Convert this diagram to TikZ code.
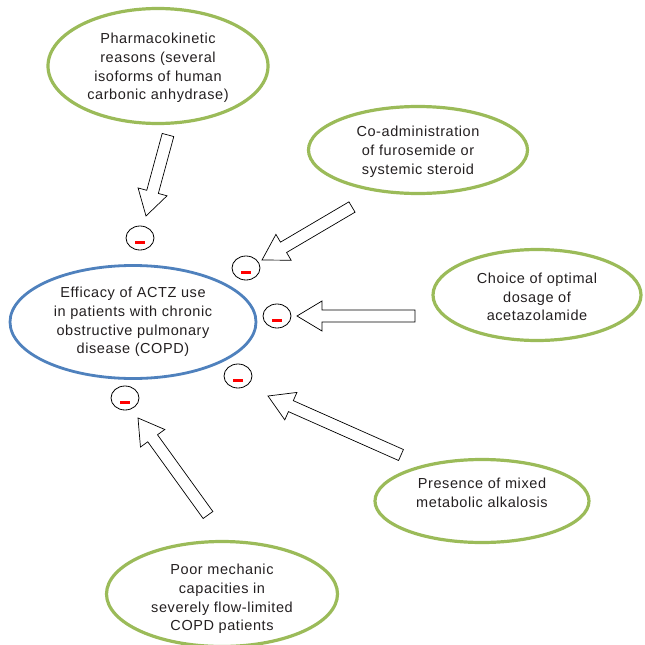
\documentclass[tikz,border=0pt]{standalone}
\usepackage{fontspec}
\setmainfont{Liberation Sans}[LetterSpace=4]
\usetikzlibrary{shapes.geometric,calc}
\definecolor{ogreen}{HTML}{9BBB59}
\definecolor{oblue}{HTML}{4F81BD}
\definecolor{txt}{HTML}{231F20}
\tikzset{
  bubble/.style={ellipse, draw=ogreen, line width=3.2pt, inner sep=0pt},
  mainbubble/.style={bubble, draw=oblue, line width=2.8pt},
  btext/.style={align=center, text=txt, inner sep=0pt, font=\fontsize{14.5}{18.8}\selectfont},
  minuscirc/.style={ellipse, draw=black, line width=0.8pt, minimum width=28pt, minimum height=24pt, inner sep=0pt},
  minusbar/.style={fill=red, draw=none, minimum width=10pt, minimum height=3pt, inner sep=0pt},
  blockarrow/.style={draw=black, line width=0.7pt, fill=white, line join=miter}
}
\newcommand{\blockarr}[2]{%
  \coordinate (hb) at ($(#2)!25pt!(#1)$);
  \draw[blockarrow] ($(#1)!6pt!90:(#2)$) -- ($(hb)!6pt!90:(#2)$) -- ($(hb)!15pt!90:(#2)$) -- (#2)
    -- ($(hb)!15pt!-90:(#2)$) -- ($(hb)!6pt!-90:(#2)$) -- ($(#1)!6pt!-90:(#2)$) -- cycle;}
\begin{document}
\begin{tikzpicture}[x=1pt,y=-1pt]
\useasboundingbox (0,0) rectangle (645,645);
\node[mainbubble, minimum width=246pt, minimum height=113pt] (main) at (133,322) {};
\node[btext] (maint) at (133,322) {Efficacy of ACTZ use\\in patients with chronic\\obstructive pulmonary\\disease (COPD)};
\node[bubble, minimum width=220pt, minimum height=115pt] (pk) at (158,66) {};
\node[btext] (pkt) at (158,68) {Pharmacokinetic\\reasons (several\\isoforms of human\\carbonic anhydrase)};
\node[bubble, minimum width=219pt, minimum height=87pt] (co) at (418,150) {};
\node[btext] (cot) at (418,152) {Co-administration\\of furosemide or\\systemic steroid};
\node[bubble, minimum width=208pt, minimum height=91pt] (ch) at (537,295) {};
\node[btext] (cht) at (537,297) {Choice of optimal\\dosage of\\acetazolamide};
\node[bubble, minimum width=214pt, minimum height=83pt] (pr) at (482,501) {};
\node[btext] (prt) at (482,493) {Presence of mixed\\metabolic alkalosis};
\node[bubble, minimum width=231pt, minimum height=105pt] (po) at (222,594) {};
\node[btext] (pot) at (222,599) {Poor mechanic\\capacities in\\severely flow-limited\\COPD patients};
\foreach \n/\x/\y in {m1/140/238, m2/246/268, m3/277/316, m4/238/376, m5/125/398}{
  \node[minuscirc] (\n) at (\x,\y) {};
  \node[minusbar] (\n b) at ([yshift=-4pt]\n.center) {};
}
\coordinate (t1) at (168,135); \coordinate (p1) at (146,216);
\coordinate (t2) at (352,207); \coordinate (p2) at (262,260);
\coordinate (t3) at (415,316); \coordinate (p3) at (297,316);
\coordinate (t4) at (401,455); \coordinate (p4) at (268,396);
\coordinate (t5) at (208,515); \coordinate (p5) at (138,418);
\blockarr{t1}{p1}
\blockarr{t2}{p2}
\blockarr{t3}{p3}
\blockarr{t4}{p4}
\blockarr{t5}{p5}
\end{tikzpicture}
\end{document}
